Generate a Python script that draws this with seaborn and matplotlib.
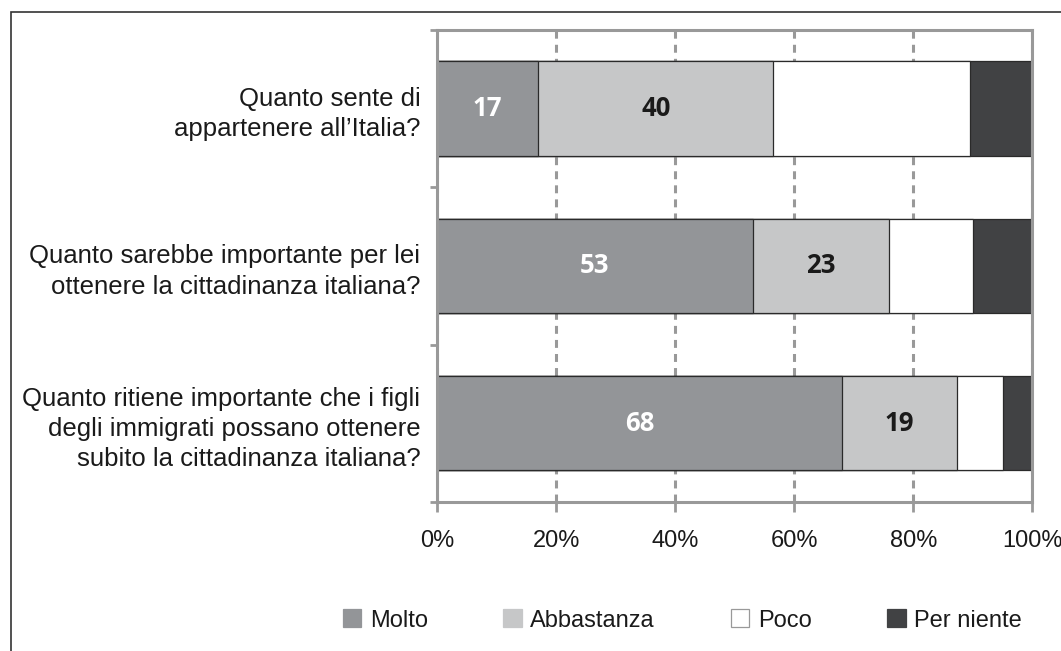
import seaborn as sns
import matplotlib.pyplot as plt
import matplotlib.patches as mpatches
import pandas as pd
import numpy as np

# dati (percentuali)
domande = [
    "Quanto sente di\nappartenere all\u2019Italia?",
    "Quanto sarebbe importante per lei\nottenere la cittadinanza italiana?",
    "Quanto ritiene importante che i figli\ndegli immigrati possano ottenere\nsubito la cittadinanza italiana?",
]
categorie = ["Molto", "Abbastanza", "Poco", "Per niente"]
molto = [17, 53, 68]
abbastanza = [39.5, 23, 19.4]
poco = [33, 14, 7.6]
per_niente = [10.5, 10, 5]
colori = ["#939598", "#c6c7c8", "#ffffff", "#414244"]
colori_etichette = ["white", "#1a1a1a"]
tick_x = [0, 20, 40, 60, 80, 100]

df = pd.DataFrame({"domanda": domande, "Molto": molto, "Abbastanza": abbastanza,
                   "Poco": poco, "Per niente": per_niente})
cum = df[categorie].cumsum(axis=1)

sns.set_style("white")
plt.rcParams['font.family'] = ['Liberation Sans', 'DejaVu Sans']

fig = plt.figure(figsize=(10.61, 6.51), dpi=100)
ax = fig.add_axes([0.412, 0.229, 0.561, 0.725])
grigio = "#999999"

# barre impilate: si disegnano le somme cumulate dalla più lunga alla più corta
for cat, col in reversed(list(zip(categorie, colori))):
    sns.barplot(x=cum[cat], y=df["domanda"], orient="h", color=col,
                edgecolor="#2a2a2a", linewidth=0.9, width=0.6, ax=ax,
                saturation=1)

# etichette dei valori per Molto e Abbastanza
for i in range(len(domande)):
    for j, cat in enumerate(categorie[:2]):
        v = df.loc[i, cat]
        start = cum.loc[i, cat] - v
        ax.text(start + v / 2, i, f"{v:.0f}", ha="center", va="center",
                fontsize=18.5, fontweight="bold", color=colori_etichette[j],
                family=["Open Sans", "DejaVu Sans"])

ax.set_xlim(0, 100)
ax.set_ylim(2.5, -0.5)
ax.set_xticks(tick_x)
ax.set_xticklabels([f"{t}%" for t in tick_x])
ax.set_xlabel("")
ax.set_ylabel("")
ax.set_yticks([-0.5, 0.5, 1.5, 2.5], minor=True)

ax.grid(axis="x", color=grigio, linewidth=2.2, linestyle=(0, (2.6, 2)))
ax.set_axisbelow(True)
for s in ax.spines.values():
    s.set_color(grigio)
    s.set_linewidth(2.2)

ax.tick_params(axis="y", which="major", length=0, pad=12, labelsize=18.5,
               labelcolor="#1a1a1a")
for lab in ax.get_yticklabels():
    lab.set_linespacing(1.33)
ax.tick_params(axis="y", which="minor", left=True, length=5, width=2,
               color=grigio, direction="out")
ax.tick_params(axis="x", bottom=True, length=7, width=2, color=grigio,
               direction="out", pad=13, labelsize=17, labelcolor="#1a1a1a")

# legenda
handles = [mpatches.Patch(facecolor=c, edgecolor=(grigio if c == "#ffffff" else c),
                          linewidth=0.9, label=l) for c, l in zip(colori, categorie)]
fig.legend(handles=handles, loc="center", bbox_to_anchor=(0.643, 0.047), ncol=4,
           frameon=False, fontsize=17, handlelength=0.8, handleheight=0.8,
           handletextpad=0.35, columnspacing=3.2, labelcolor="#1a1a1a")

# cornice esterna (lato sinistro e superiore)
fig.add_artist(mpatches.Rectangle((11 / 1061, -0.1), 2, 1 - 12 / 651 + 0.1,
                                  transform=fig.transFigure, fill=False,
                                  edgecolor="#333333", linewidth=1.2))

fig.savefig("out.png", dpi=100)
